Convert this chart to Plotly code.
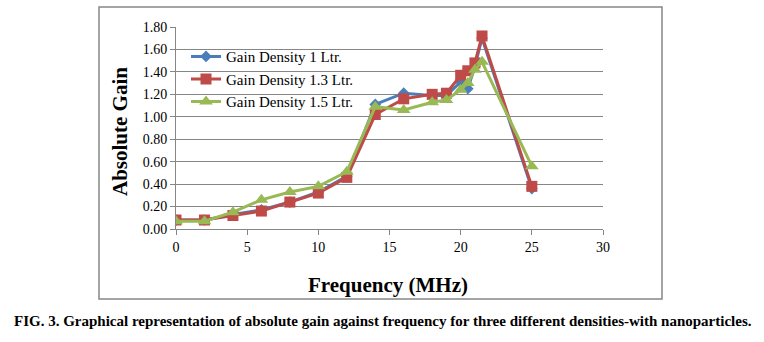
import plotly.graph_objects as go

freq = [0, 2, 4, 6, 8, 10, 12, 14, 16, 18, 19, 20, 20.5, 21, 21.5, 25]
gain_1 = [0.08, 0.08, 0.13, 0.17, 0.24, 0.33, 0.47, 1.11, 1.21, 1.19, 1.19, 1.31, 1.25, 1.45, 1.70, 0.36]
gain_13 = [0.08, 0.08, 0.12, 0.16, 0.24, 0.32, 0.46, 1.02, 1.16, 1.20, 1.21, 1.37, 1.41, 1.48, 1.72, 0.38]
gain_15 = [0.07, 0.07, 0.15, 0.26, 0.33, 0.38, 0.51, 1.09, 1.06, 1.13, 1.15, 1.24, 1.30, 1.42, 1.49, 0.56]
names = ["Gain Density 1 Ltr.", "Gain Density 1.3 Ltr.", "Gain Density 1.5 Ltr."]
x_ticks = [0, 5, 10, 15, 20, 25, 30]
y_ticks = [0.0, 0.2, 0.4, 0.6, 0.8, 1.0, 1.2, 1.4, 1.6, 1.8]

serif = "Liberation Serif, Times New Roman, serif"
fig = go.Figure()
styles = [
    ("#4A7EBB", "diamond", 9),
    ("#BE4B48", "square", 11),
    ("#98B954", "triangle-up", 12),
]
for ys, name, (col, sym, sz) in zip([gain_1, gain_13, gain_15], names, styles):
    fig.add_trace(go.Scatter(x=freq, y=ys, name=name, mode="lines+markers",
                             line=dict(color=col, width=3),
                             marker=dict(color=col, symbol=sym, size=sz)))

L, R, T, B = 176, 603, 27, 229
W, H = 764, 342
fig.update_layout(
    width=W, height=H,
    margin=dict(l=L, r=W - R, t=T, b=H - B),
    paper_bgcolor="white", plot_bgcolor="white",
    font=dict(family=serif, size=14, color="black"),
    showlegend=True,
    legend=dict(x=10 / (R - L), y=0.935, xanchor="left", yanchor="top",
                bgcolor="rgba(0,0,0,0)", font=dict(family=serif, size=15),
                itemwidth=30, tracegroupgap=0),
    xaxis=dict(range=[0, 30], tickvals=x_ticks, showgrid=False, zeroline=False,
               showline=True, linecolor="#868686", linewidth=1,
               ticks="outside", ticklen=5, tickcolor="#868686"),
    yaxis=dict(range=[0, 1.8], tickvals=y_ticks, tickformat=".2f",
               showgrid=True, gridcolor="#868686", gridwidth=1, zeroline=False,
               showline=True, linecolor="#868686", linewidth=1,
               ticks="outside", ticklen=5, tickcolor="#868686"),
)
pw, ph = R - L, B - T
fig.add_shape(type="rect", xref="paper", yref="paper",
              x0=(99 - L) / pw, x1=(662 - L) / pw,
              y0=(B - 299) / ph, y1=(B - 7) / ph,
              line=dict(color="#868686", width=1.5), layer="below")
fig.add_annotation(text="<b>Absolute Gain</b>", xref="paper", yref="paper",
                   x=(120 - L) / pw, y=(B - 132) / ph, showarrow=False, textangle=-90,
                   font=dict(family=serif, size=21), xanchor="center", yanchor="middle")
fig.add_annotation(text="<b>Frequency (MHz)</b>", xref="paper", yref="paper",
                   x=(388 - L) / pw, y=(B - 285) / ph, showarrow=False,
                   font=dict(family=serif, size=21), xanchor="center", yanchor="middle")
fig.add_annotation(text="<b>FIG. 3. Graphical representation of absolute gain against frequency for three different densities-with nanoparticles.</b>",
                   xref="paper", yref="paper",
                   x=(383 - L) / pw, y=(B - 321) / ph, showarrow=False,
                   font=dict(family=serif, size=15), xanchor="center", yanchor="middle")
fig.write_html("out.html")
